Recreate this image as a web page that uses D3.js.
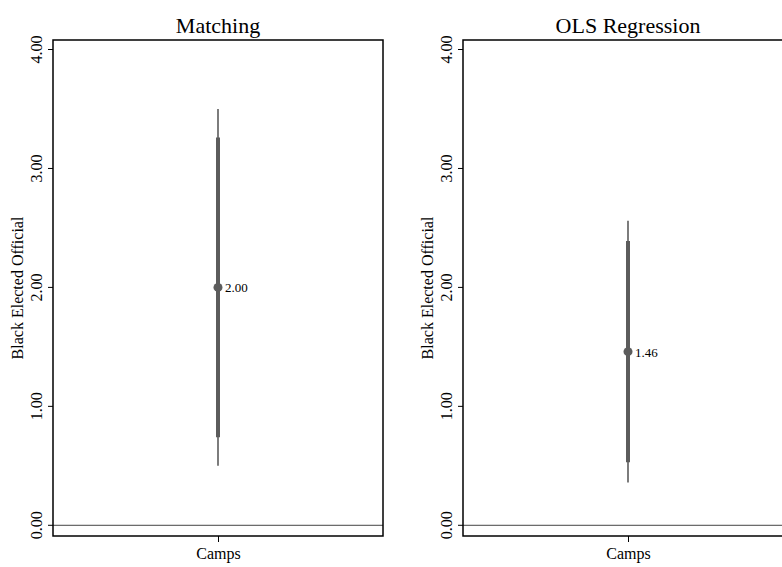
<!DOCTYPE html>
<html>
<head>
<meta charset="utf-8">
<script src="https://cdn.jsdelivr.net/npm/d3@7"></script>
<style>
  body { margin: 0; background: #fff; }
  text { font-family: "Liberation Serif", "Times New Roman", serif; }
</style>
</head>
<body>
<div id="chart"></div>
<script>
const width = 782,
    height = 567;

// data
const panelTitles = ["Matching", "OLS Regression"];
const category = "Camps";
const estimates = [2.0, 1.46];
const ci90Low = [0.74, 0.53];
const ci90High = [3.26, 2.39];
const ci95Low = [0.5, 0.36];
const ci95High = [3.5, 2.56];
const yTicks = [0, 1, 2, 3, 4];
const yLabel = "Black Elected Official";

const panelLeft = [53, 463],
    panelWidth = 330,
    plotTop = 40,
    plotBottom = 536;

const svg = d3
    .select("#chart")
    .append("svg")
    .attr("width", width)
    .attr("height", height);

const yScale = d3.scaleLinear().domain([-0.09, 4.08]).range([plotBottom, plotTop]);
const fmt = d3.format(".2f");
const grey = "#5c5c5c";

panelTitles.forEach((title, i) => {
    const xScale = d3
        .scalePoint()
        .domain([category])
        .range([panelLeft[i], panelLeft[i] + panelWidth])
        .padding(0.5);
    const g = svg.append("g");
    const cx = xScale(category);

    // zero line
    g.append("line")
        .attr("x1", panelLeft[i])
        .attr("x2", panelLeft[i] + panelWidth)
        .attr("y1", yScale(0))
        .attr("y2", yScale(0))
        .attr("stroke", "#444")
        .attr("stroke-width", 1);

    // y axis
    const yAxis = g
        .append("g")
        .attr("transform", "translate(" + panelLeft[i] + ",0)")
        .call(d3.axisLeft(yScale).tickValues(yTicks).tickSize(5).tickFormat(fmt));
    yAxis.select(".domain").remove();
    yAxis.selectAll("line").attr("stroke", "#000");
    yAxis.selectAll(".tick").attr("transform", null);
    yAxis.selectAll(".tick line").attr("y1", (d) => yScale(d)).attr("y2", (d) => yScale(d));
    yAxis
        .selectAll(".tick text")
        .attr("transform", "rotate(-90)")
        .attr("x", (d) => -yScale(d))
        .attr("y", -11)
        .attr("dy", 0)
        .attr("text-anchor", "middle")
        .style("font-size", "16px")
        .style("font-family", "Liberation Serif")
        .attr("fill", "#000");

    // x axis
    const xAxis = g
        .append("g")
        .attr("transform", "translate(0," + plotBottom + ")")
        .call(d3.axisBottom(xScale).tickSize(6));
    xAxis.select(".domain").remove();
    xAxis.selectAll("line").attr("stroke", "#000");
    xAxis
        .selectAll("text")
        .attr("y", 23)
        .attr("dy", 0)
        .style("font-size", "16px")
        .style("font-family", "Liberation Serif")
        .attr("fill", "#000");

    // intervals
    g.append("line")
        .attr("x1", cx)
        .attr("x2", cx)
        .attr("y1", yScale(ci95Low[i]))
        .attr("y2", yScale(ci95High[i]))
        .attr("stroke", grey)
        .attr("stroke-width", 1.6);
    g.append("line")
        .attr("x1", cx)
        .attr("x2", cx)
        .attr("y1", yScale(ci90Low[i]))
        .attr("y2", yScale(ci90High[i]))
        .attr("stroke", grey)
        .attr("stroke-width", 4);
    g.append("circle")
        .attr("cx", cx)
        .attr("cy", yScale(estimates[i]))
        .attr("r", 4.5)
        .attr("fill", grey);
    g.append("text")
        .attr("x", cx + 7)
        .attr("y", yScale(estimates[i]) + 5)
        .style("font-size", "13px")
        .text(fmt(estimates[i]));

    // frame
    g.append("rect")
        .attr("x", panelLeft[i])
        .attr("y", plotTop)
        .attr("width", panelWidth)
        .attr("height", plotBottom - plotTop)
        .attr("fill", "none")
        .attr("stroke", "#000")
        .attr("stroke-width", 1.5);

    // title
    g.append("text")
        .attr("x", panelLeft[i] + panelWidth / 2)
        .attr("y", 33)
        .attr("text-anchor", "middle")
        .style("font-size", "22px")
        .text(title);

    // y label
    g.append("text")
        .attr("transform", "rotate(-90)")
        .attr("x", -(plotTop + plotBottom) / 2)
        .attr("y", panelLeft[i] - 30)
        .attr("text-anchor", "middle")
        .style("font-size", "16px")
        .text(yLabel);
});
</script>
</body>
</html>
